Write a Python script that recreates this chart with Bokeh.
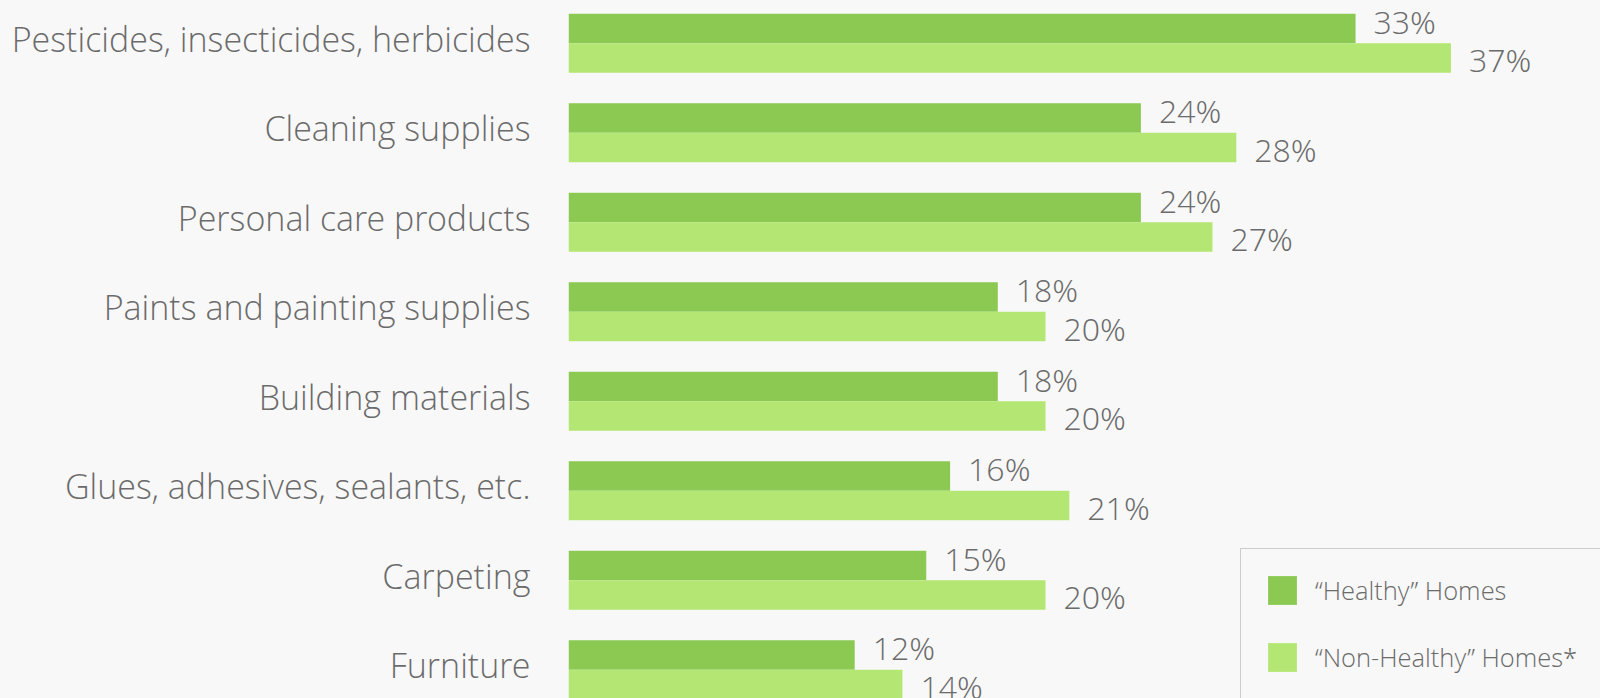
from bokeh.plotting import figure
from bokeh.models import (ColumnDataSource, Range1d, FixedTicker, Legend, LegendItem)
from bokeh.transform import dodge
from bokeh.core.properties import value
from bokeh.embed import file_html
from bokeh.resources import INLINE

categories = [
    "Pesticides, insecticides, herbicides",
    "Cleaning supplies",
    "Personal care products",
    "Paints and painting supplies",
    "Building materials",
    "Glues, adhesives, sealants, etc.",
    "Carpeting",
    "Furniture",
]
healthy = [33, 24, 24, 18, 18, 16, 15, 12]
non_healthy = [37, 28, 27, 20, 20, 21, 20, 14]
series_names = ["\u201cHealthy\u201d Homes", "\u201cNon-Healthy\u201d Homes*"]

FONT = "'Open Sans Light', 'Open Sans', sans-serif"
TXT = "#6b6b6b"
C1 = "#8BC953"
C2 = "#B4E673"
BG = "#F8F8F8"

idx = list(range(len(categories)))
src = ColumnDataSource(dict(
    idx=idx, healthy=healthy, non_healthy=non_healthy,
    hlab=[f"{v}%" for v in healthy], nlab=[f"{v}%" for v in non_healthy],
))

p = figure(width=1600, height=698, output_backend="svg", toolbar_location=None,
           x_range=Range1d(0, 43.27), y_range=Range1d(7.322, -0.477),
           x_axis_location=None, y_axis_location="left",
           background_fill_color=BG, border_fill_color=BG,
           min_border_left=568, min_border_right=0, min_border_top=0, min_border_bottom=0)
p.outline_line_color = None
p.grid.visible = False

bh = 0.33
r1 = p.hbar(y=dodge("idx", -bh / 2, range=p.y_range), left=0, right="healthy", height=bh,
            source=src, fill_color=C1, line_color=None)
r2 = p.hbar(y=dodge("idx", bh / 2, range=p.y_range), left=0, right="non_healthy", height=bh,
            source=src, fill_color=C2, line_color=None)

p.text(x="healthy", y=dodge("idx", -bh / 2, range=p.y_range), text="hlab", source=src,
       x_offset=18, y_offset=-7, text_align="left", text_baseline="middle",
       text_font=value(FONT), text_font_size="32px", text_color=TXT)
p.text(x="non_healthy", y=dodge("idx", bh / 2, range=p.y_range), text="nlab", source=src,
       x_offset=18, y_offset=2, text_align="left", text_baseline="middle",
       text_font=value(FONT), text_font_size="32px", text_color=TXT)

tick_pos = [i - 0.05 for i in idx]
ax = p.yaxis[0]
ax.ticker = FixedTicker(ticks=tick_pos)
ax.major_label_overrides = {t: c for t, c in zip(tick_pos, categories)}
ax.axis_line_color = None
ax.major_tick_line_color = None
ax.minor_tick_line_color = None
ax.major_tick_out = 0
ax.major_tick_in = 0
ax.major_label_standoff = 38
ax.major_label_text_font = FONT
ax.major_label_text_font_size = "34px"
ax.major_label_text_color = TXT

legend = Legend(items=[LegendItem(label=series_names[0], renderers=[r1]),
                       LegendItem(label=series_names[1], renderers=[r2])],
                location=(672, -1), orientation="vertical",
                glyph_width=36, glyph_height=36, label_standoff=15, spacing=31,
                padding=23, margin=0, label_width=330,
                label_text_font=FONT, label_text_font_size="25.5px", label_text_color=TXT,
                border_line_color="#a0a0a0", border_line_width=1,
                background_fill_color=BG, background_fill_alpha=1)
p.add_layout(legend, "center")

html = file_html(p, INLINE)
html = html.replace("<body>", '<body style="background-color:#f8f8f8;">')
open("out.html", "w").write(html)
